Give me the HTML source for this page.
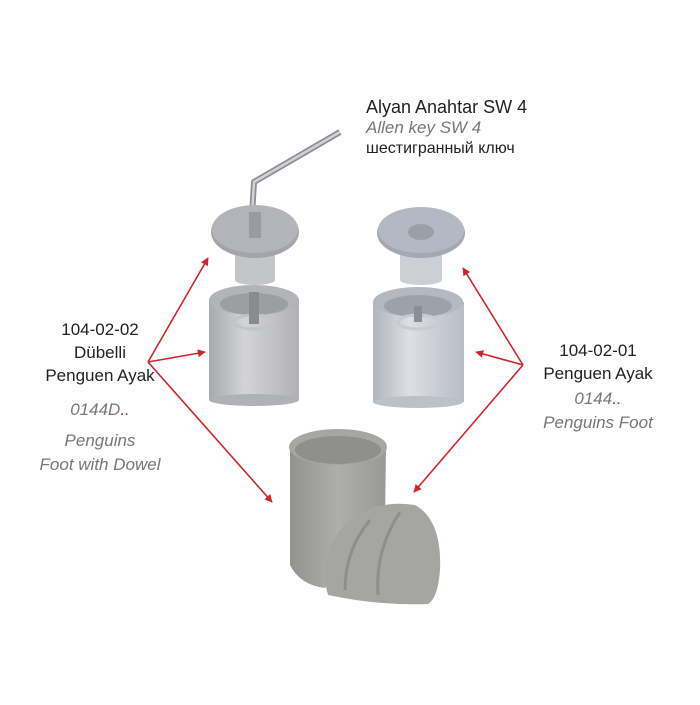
<!DOCTYPE html>
<html><head><style>
body{margin:0;background:#fff}
svg text{font-family:"Liberation Sans",sans-serif}
</style></head><body>
<svg width="700" height="700" viewBox="0 0 700 700" xmlns="http://www.w3.org/2000/svg">
<defs>
<linearGradient id="cyl" x1="0" x2="1"><stop offset="0" stop-color="#a8a9ab"/><stop offset=".4" stop-color="#d3d4d6"/><stop offset="1" stop-color="#b0b1b4"/></linearGradient>
<linearGradient id="cyl2" x1="0" x2="1"><stop offset="0" stop-color="#b0b4bc"/><stop offset=".4" stop-color="#dcdfe4"/><stop offset="1" stop-color="#b8bcc4"/></linearGradient>
<linearGradient id="foot" x1="0" x2="1"><stop offset="0" stop-color="#929290"/><stop offset=".5" stop-color="#aeaeab"/><stop offset="1" stop-color="#999996"/></linearGradient>
<marker id="ah" viewBox="0 0 10 10" refX="9" refY="5" markerWidth="5" markerHeight="5" orient="auto"><path d="M0,0L10,5L0,10z" fill="#d0242b"/></marker>
</defs>
<!-- allen key -->
<polyline points="252,215 254,182 340,132" fill="none" stroke="#8c8e92" stroke-width="6" stroke-linejoin="round"/>
<polyline points="252,215 254,182 340,132" fill="none" stroke="#d0d2d5" stroke-width="2.5" stroke-linejoin="round"/>
<!-- left cap -->
<rect x="235" y="240" width="40" height="40" fill="#c4c5c8"/>
<ellipse cx="255" cy="280" rx="20" ry="5" fill="#c4c5c8"/>
<ellipse cx="255" cy="232" rx="44" ry="26" fill="#a4a5aa"/>
<ellipse cx="255" cy="229" rx="43" ry="24" fill="#b3b4ba"/>
<rect x="249" y="212" width="12" height="26" fill="#9a9ba0"/>
<!-- left cylinder -->
<rect x="209" y="300" width="90" height="100" fill="url(#cyl)"/>
<ellipse cx="254" cy="400" rx="45" ry="6" fill="#b0b1b4"/>
<ellipse cx="254" cy="300" rx="45" ry="15" fill="#b3b4b7"/>
<ellipse cx="254" cy="304" rx="34" ry="11" fill="#9d9ea1"/>
<ellipse cx="254" cy="322" rx="20" ry="7" fill="none" stroke="#c2c3c6" stroke-width="3"/>
<rect x="249" y="292" width="10" height="32" fill="#8a8b8f"/>
<!-- right cap -->
<rect x="400" y="242" width="42" height="38" fill="#ccd0d6"/>
<ellipse cx="421" cy="280" rx="21" ry="5" fill="#ccd0d6"/>
<ellipse cx="421" cy="233" rx="44" ry="25" fill="#a4a8b2"/>
<ellipse cx="421" cy="230" rx="43" ry="23" fill="#b4b8c2"/>
<ellipse cx="421" cy="232" rx="13" ry="8" fill="#9a9fa8"/>
<!-- right cylinder -->
<rect x="373" y="302" width="91" height="100" fill="url(#cyl2)"/>
<ellipse cx="418" cy="402" rx="45" ry="6" fill="#bcc0c7"/>
<ellipse cx="418" cy="302" rx="45" ry="15" fill="#b4b8c0"/>
<ellipse cx="418" cy="306" rx="34" ry="11" fill="#9da1a9"/>
<ellipse cx="418" cy="322" rx="20" ry="7" fill="none" stroke="#c6cad1" stroke-width="3"/>
<rect x="414" y="306" width="8" height="16" fill="#8a8e95"/>
<!-- foot -->
<path d="M290,448 L290,565 Q300,585 325,588 L385,520 L386,448 Z" fill="url(#foot)"/>
<ellipse cx="338" cy="447" rx="49" ry="18" fill="#a6a6a3"/>
<ellipse cx="338" cy="450" rx="43" ry="14" fill="#8f8f8c"/>
<path d="M328,595 Q318,560 340,530 Q370,498 415,505 Q442,520 440,570 Q438,598 428,604 Q380,606 328,595 Z" fill="#a5a5a2"/>
<path d="M345,590 Q345,550 370,520" stroke="#8e8e8b" stroke-width="3" fill="none"/>
<path d="M378,595 Q375,550 400,512" stroke="#8e8e8b" stroke-width="3" fill="none"/>
<!-- arrows -->
<g stroke="#d0242b" stroke-width="1.6" fill="none" marker-end="url(#ah)">
<line x1="148" y1="362" x2="208" y2="258"/>
<line x1="148" y1="362" x2="205" y2="352"/>
<line x1="148" y1="362" x2="272" y2="502"/>
<line x1="523" y1="365" x2="463" y2="268"/>
<line x1="523" y1="365" x2="476" y2="352"/>
<line x1="523" y1="365" x2="414" y2="492"/>
</g>
<!-- top labels -->
<text x="366" y="113" font-size="18" fill="#222">Alyan Anahtar SW 4</text>
<text x="366" y="133" font-size="17" font-style="italic" fill="#777">Allen key SW 4</text>
<text x="366" y="153" font-size="16" fill="#222">шестигранный ключ</text>
<!-- left labels -->
<g font-size="17" text-anchor="middle">
<text x="100" y="335" fill="#222">104-02-02</text>
<text x="100" y="358" fill="#222">Dübelli</text>
<text x="100" y="381" fill="#222">Penguen Ayak</text>
<text x="100" y="415" fill="#777" font-style="italic">0144D<tspan fill="#d0242b">..</tspan></text>
<text x="100" y="446" fill="#777" font-style="italic">Penguins</text>
<text x="100" y="470" fill="#777" font-style="italic">Foot with Dowel</text>
<text x="598" y="356" fill="#222">104-02-01</text>
<text x="598" y="379" fill="#222">Penguen Ayak</text>
<text x="598" y="404" fill="#777" font-style="italic">0144<tspan fill="#d0242b">..</tspan></text>
<text x="598" y="428" fill="#777" font-style="italic">Penguins Foot</text>
</g>
</svg>
</body></html>
